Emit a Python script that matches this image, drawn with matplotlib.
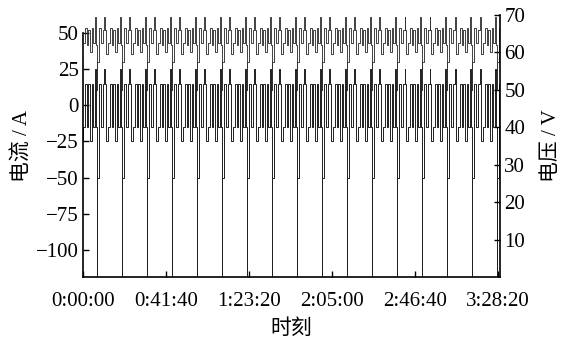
import numpy as np
import matplotlib
matplotlib.use("Agg")
import matplotlib.pyplot as plt
from matplotlib.ticker import FuncFormatter

plt.rcParams['font.family'] = ['Liberation Serif', 'Noto Sans CJK SC']
plt.rcParams['axes.unicode_minus'] = True

# one test cycle, repeated through the run
step_s = [10, 60, 55, 50, 50, 30, 30, 45, 55, 55, 55, 55, 45, 50, 45, 30, 33]
current_A = [-120, -50, 15, -15, 15, 25, 15, -25, -15, 15, -15, 15, -25, 15, -15, 25, -15]
voltage_V = [50, 57.5, 66.5, 62.5, 66, 69.5, 66, 59.5, 62.5, 66.5, 62, 66, 60, 66.5, 62.5, 69.5, 62]
n_cycles = 18
first_pulse_s = 422   # first -120 A pulse

xticks = [0, 2500, 5000, 7500, 10000, 12500]
cur_ticks = [50, 25, 0, -25, -50, -75, -100]
volt_ticks = [10, 20, 30, 40, 50, 60, 70]

durs = np.tile(step_s, n_cycles)
t = np.concatenate([[0], np.cumsum(durs)]) + first_pulse_s - sum(step_s)
cur = np.tile(current_A, n_cycles)
volt = np.tile(voltage_V, n_cycles)
cur = np.append(cur, cur[-1])
volt = np.append(volt, volt[-1])

fig = plt.figure(figsize=(5.65, 3.38), dpi=100)
ax = fig.add_axes([0.1469, 0.1805, 0.7381, 0.7751])
ax2 = ax.twinx()

ax.step(t, cur, where='post', color='#1f1f1f', lw=0.7)
ax2.step(t, volt, where='post', color='#333333', lw=0.65)

ax.set_xlim(0, 12560)
ax.set_ylim(-118.7, 62.4)
ax2.set_ylim(0, 70)

def hms(x, pos):
    x = int(round(x))
    return "%d:%02d:%02d" % (x // 3600, (x % 3600) // 60, x % 60)

ax.set_xticks(xticks)
ax.xaxis.set_major_formatter(FuncFormatter(hms))
ax.set_yticks(cur_ticks)
ax2.set_yticks(volt_ticks)

for a in (ax, ax2):
    a.tick_params(direction='in', length=4, width=1, labelsize=15, pad=3)
    a.spines['top'].set_visible(False)
    for s in a.spines.values():
        s.set_linewidth(1.2)
ax.tick_params(axis='x', pad=11)
ax.spines['right'].set_visible(False)
ax2.spines['left'].set_visible(False)
ax2.spines['bottom'].set_visible(False)
ax.spines['left'].set_bounds(-118.7, 50)

ax.set_ylabel("电流 / A", fontsize=15, labelpad=2)
ax2.set_ylabel("电压 / V", fontsize=15, labelpad=12)
ax.set_xlabel("时刻", fontsize=15, labelpad=6)

fig.savefig("out.png", dpi=100)
